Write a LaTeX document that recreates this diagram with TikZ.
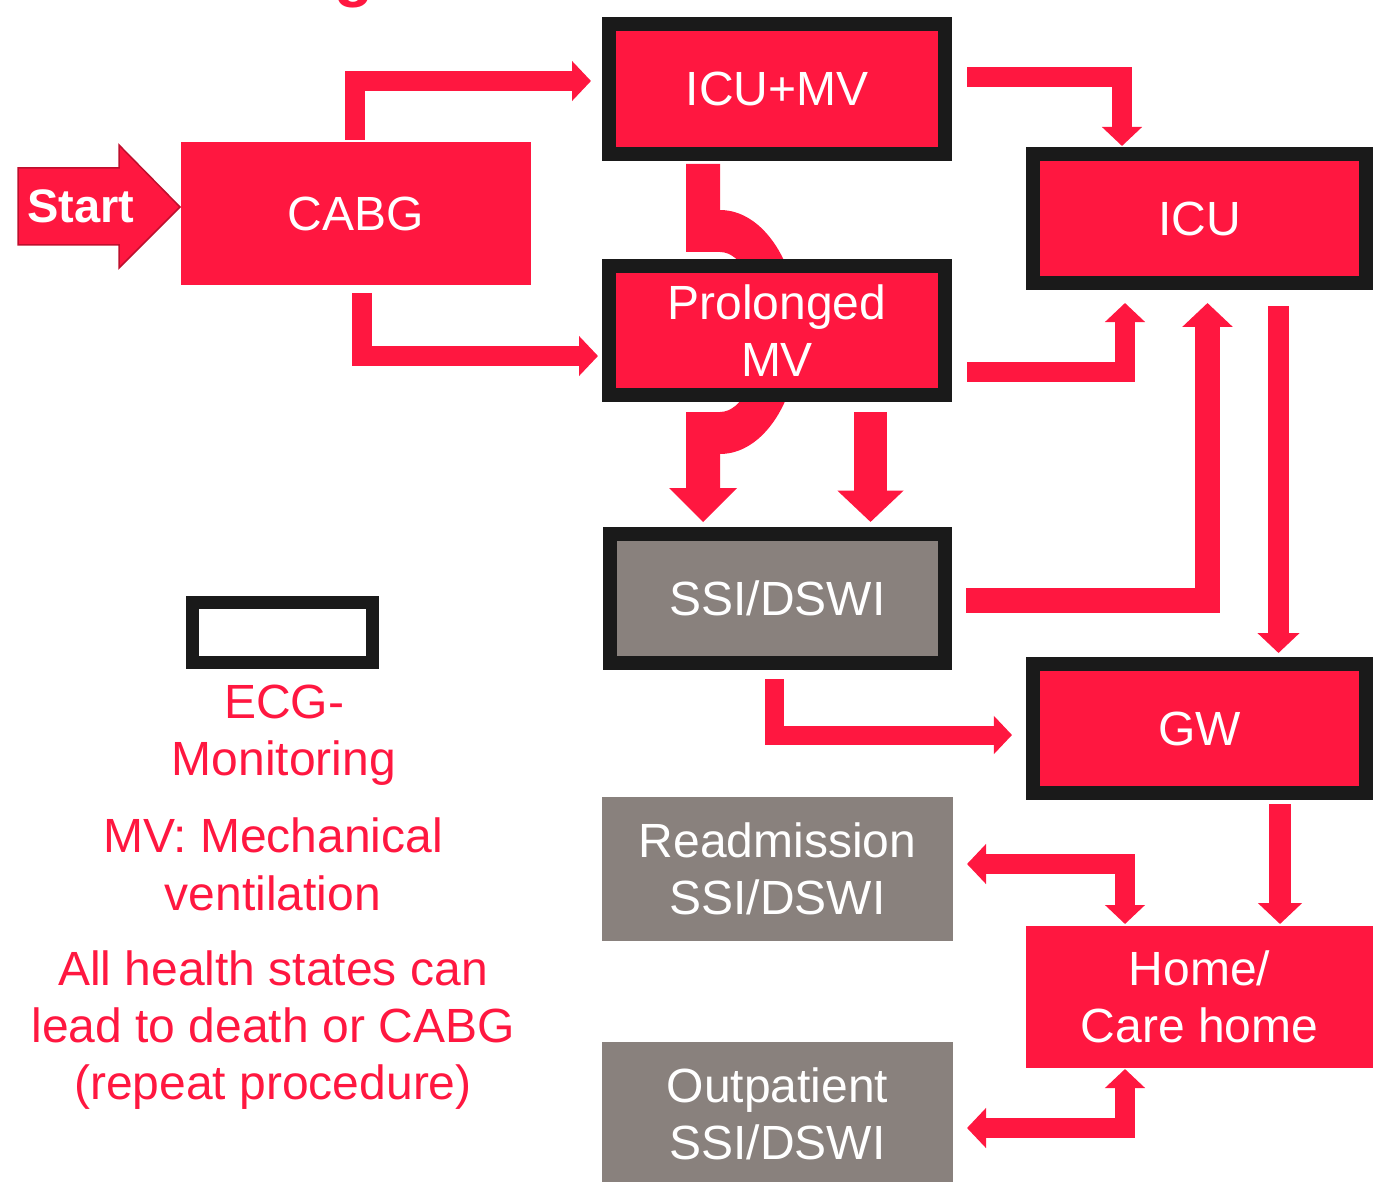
\documentclass[tikz,border=0pt]{standalone}
\usepackage{fontspec}
\setmainfont{Liberation Sans}
\usetikzlibrary{arrows.meta,calc,backgrounds}
\definecolor{myred}{RGB}{255,23,64}
\definecolor{mygray}{RGB}{137,129,125}
\definecolor{myblack}{RGB}{26,26,26}
\definecolor{startborder}{RGB}{190,15,45}
\begin{document}
\begin{tikzpicture}[x=1pt,y=-1pt,
  box/.style={rectangle, inner sep=0pt, outer sep=0pt, text=white, align=center,
    font=\fontsize{48}{57}\selectfont},
  bordered/.style={box, fill=myred, draw=myblack, line width=14pt,
    minimum width=#1, minimum height=130pt},
  bordered/.default=336pt,
  graybordered/.style={box, fill=mygray, draw=myblack, line width=14pt,
    minimum width=335pt, minimum height=129pt},
  redbox/.style={box, fill=myred, minimum width=#1, minimum height=143pt},
  graybox/.style={box, fill=mygray, minimum width=351pt, minimum height=144pt},
  legendtext/.style={text=myred, anchor=base, inner sep=0pt,
    font=\fontsize{48}{57}\selectfont},
  flow/.style={draw=myred, line width=#1,
    -{Triangle[length=0pt 0.95, width=0pt 1.95]}},
  twoway/.style={draw=myred, line width=#1,
    {Triangle[length=0pt 0.95, width=0pt 1.95]}-{Triangle[length=0pt 0.95, width=0pt 1.95]}}
]
\useasboundingbox (0,0) rectangle (1373,1182);

% title fragment
\node[text=myred, anchor=base, inner sep=0pt,
  font=\bfseries\fontsize{64}{70}\selectfont] (ttl) at (354,-5.5) {g};

% Start arrow
\fill[myred, draw=startborder, line width=1.5pt]
  (18,168) -- (119,168) -- (119,145) -- (180,207) -- (119,268) -- (119,245) -- (18,245) -- cycle;
\node[text=white, inner sep=0pt, font=\bfseries\fontsize{47}{56}\selectfont] (start) at (81,206) {Start};

% states
\node[redbox=350pt] (cabg) at (356,213.5) {CABG};
\node[bordered] (icumv) at (777,89) {ICU+MV};
\node[bordered, minimum height=129pt] (pmv) at (777,330.5) {Prolonged\\MV};
\node[graybordered] (ssi) at (777.5,598.5) {SSI/DSWI};
\node[bordered=333pt, minimum height=129pt] (icu) at (1199.5,218.5) {ICU};
\node[bordered=333pt, minimum height=129pt] (gw) at (1199.5,728.5) {GW};
\node[redbox=347pt, minimum height=142pt] (home) at (1199.5,997) {Home/\\Care home};
\node[graybox] (readm) at (777.5,869) {Readmission\\SSI/DSWI};
\node[graybox] (outp) at (777.5,1114) {Outpatient\\SSI/DSWI};

% legend
\node[draw=myblack, fill=white, line width=13pt, minimum width=180pt, minimum height=60pt,
  inner sep=0pt, outer sep=0pt] (legbox) at (282.5,632.5) {};
\node[legendtext] (l1) at (284,718) {ECG-};
\node[legendtext] (l2) at (284,775) {Monitoring};
\node[legendtext] (l3) at (273,852) {MV: Mechanical};
\node[legendtext] (l4) at (273,910) {ventilation};
\node[legendtext] (l5) at (273,985) {All health states can};
\node[legendtext] (l6) at (273,1042) {lead to death or CABG};
\node[legendtext] (l7) at (273,1099) {(repeat procedure)};

% curved connector ICU+MV -> SSI/DSWI, behind Prolonged MV
\begin{scope}[on background layer]
\fill[myred] ($(icumv.south)+(-91,10)$) -- (720,164) -- (720,210)
  arc[start angle=-90, end angle=90, x radius=79, y radius=122]
  -- (720,488) -- (737,488) -- ($(ssi.north)+(-74.5,-12)$) -- (669,488) -- (686,488) -- (686,412) -- (720,412)
  arc[start angle=90, end angle=-90, x radius=40, y radius=80]
  -- (686,252) -- cycle;
\end{scope}

% connectors
\draw[flow=20pt] ($(cabg.north)+(-1,-2)$) |- ($(icumv.west)+(-18,-8)$);
\draw[flow=20pt] ($(cabg.south)+(6,8)$) |- ($(pmv.west)+(-11,25.5)$);
\draw[flow=20pt] ($(icumv.east)+(22,-12)$) -| ($(icu.north)+(-77.5,-8)$);
\draw[flow=20pt] ($(pmv.east)+(22,41.5)$) -| ($(icu.south)+(-74.5,20)$);
\draw[flow=25pt] ($(ssi.east)+(21,2)$) -| ($(icu.south)+(8,20)$);
\draw[flow=21pt] ($(icu.south)+(79,23)$) -- ($(gw.north)+(79,-11)$);
\draw[flow=19pt] ($(ssi.south)+(-3,16)$) |- ($(gw.west)+(-21,6.5)$);
\draw[flow=22pt] ($(gw.south)+(80.5,11)$) -- ($(home.north)+(80.5,-2)$);
\draw[flow=33pt] ($(pmv.south)+(93.5,17)$) -- ($(ssi.north)+(93,-12)$);
\draw[twoway=20pt] ($(readm.east)+(14,-5)$) -| ($(home.north)+(-74.5,-2)$);
\draw[twoway=20pt] ($(outp.east)+(14,14)$) -| ($(home.south)+(-74.5,1)$);
\end{tikzpicture}
\end{document}
